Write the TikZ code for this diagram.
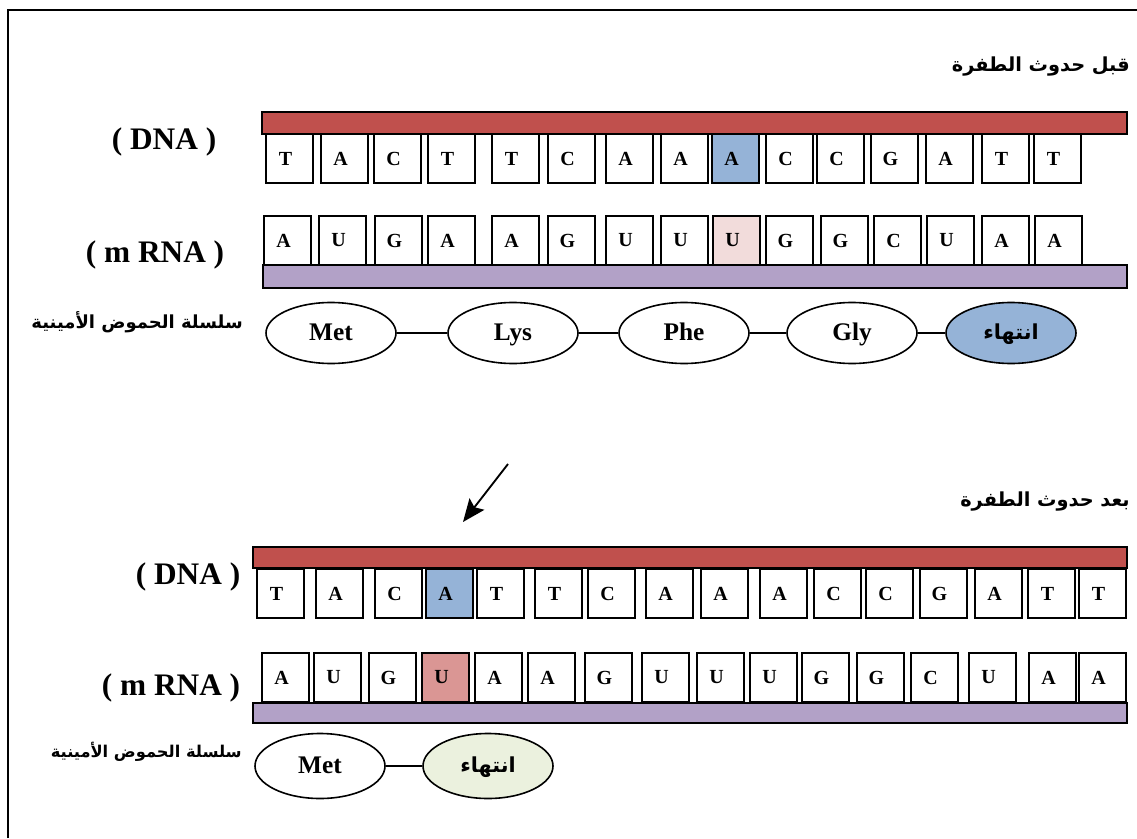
\documentclass[tikz,border=0pt]{standalone}
\usepackage{fontspec}
\setmainfont{Liberation Serif}
\newfontfamily\arabicfont[Script=Arabic]{DejaVu Sans}
\usetikzlibrary{arrows.meta,shapes.geometric}
\TeXXeTstate=1
\definecolor{dnared}{HTML}{C0504D}
\definecolor{rnapurple}{HTML}{B2A1C7}
\definecolor{mutblue}{HTML}{95B3D7}
\definecolor{palepink}{HTML}{F2DCDB}
\definecolor{mutpink}{HTML}{DA9694}
\definecolor{palegreen}{HTML}{EBF1DE}
\tikzset{
  basebox/.style={draw=black, line width=1.3pt, rectangle, anchor=north west,
    minimum width=35.25pt, minimum height=36.75pt, inner sep=0pt, outer sep=0pt,
    font=\fontsize{15}{18}\selectfont\bfseries},
  strandbar/.style={draw=black, line width=1.5pt},
  aminoacid/.style={draw=black, line width=1.2pt, ellipse, fill=white,
    minimum width=97.5pt, minimum height=45.75pt, inner sep=0pt,
    text height=13pt, text depth=2pt,
    font=\fontsize{19}{22}\selectfont\bfseries},
  stopword/.style={font=\arabicfont\bfseries\fontsize{15.5}{18}\selectfont,
    text height=12pt, text depth=3pt},
  strandname/.style={font=\fontsize{23.5}{28}\selectfont\bfseries},
  arlabel/.style={inner sep=0pt},
  link/.style={line width=1.2pt},
}
\newcommand{\ar}[1]{\beginR #1\endR}
\begin{document}
\begin{tikzpicture}[x=0.75pt, y=-0.75pt]
\useasboundingbox (0,0) rectangle (1137,838);
% outer frame
\draw[line width=1.5pt] (8,838) -- (8,10) -- (1137,10);

% ---------- before the mutation ----------
\node[arlabel, anchor=east, font=\arabicfont\bfseries\fontsize{14.5}{17}\selectfont] (titleA) at (1130,67) {\ar{قبل حدوث الطفرة}};
\node[strandname] (dnaA) at (164,142) {( DNA )};
\node[strandname] (rnaA) at (155,255) {( m RNA )};

\draw[strandbar, fill=dnared] (262,112) rectangle (1127,134);
\foreach \x/\l/\f [count=\i] in {266/T/white,321/A/white,374/C/white,428/T/white,492/T/white,548/C/white,606/A/white,661/A/white,712/A/mutblue,766/C/white,817/C/white,871/G/white,926/A/white,982/T/white,1034/T/white}
  \node[basebox, fill=\f] (dA\i) at (\x,134) {\l\kern6pt};

\foreach \x/\l/\f [count=\i] in {264/A/white,319/U/white,375/G/white,428/A/white,492/A/white,548/G/white,606/U/white,661/U/white,713/U/palepink,766/G/white,821/G/white,874/C/white,927/U/white,982/A/white,1035/A/white}
  \node[basebox, fill=\f] (rA\i) at (\x,216) {\l\kern6pt};
\draw[strandbar, fill=rnapurple] (263,265) rectangle (1127,288);

\node[arlabel, anchor=east, font=\arabicfont\bfseries\fontsize{13.5}{16}\selectfont] (chainA) at (243,322) {\ar{سلسلة الحموض الأمينية}};
\node[aminoacid] (metA) at (331,333) {Met};
\node[aminoacid] (lysA) at (513,333) {Lys};
\node[aminoacid] (pheA) at (684,333) {Phe};
\node[aminoacid] (glyA) at (852,333) {Gly};
\node[aminoacid, stopword, fill=mutblue] (stopA) at (1011,333) {\ar{انتهاء}};
\draw[link] (metA) -- (lysA);
\draw[link] (lysA) -- (pheA);
\draw[link] (pheA) -- (glyA);
\draw[link] (glyA) -- (stopA);

% ---------- after the mutation ----------
\coordinate (arrowFrom) at (508,464);
\coordinate (arrowTo) at (463,522);
\draw[line width=1.4pt, -{Stealth[length=17pt, width=14pt, inset=3pt]}] (arrowFrom) -- (arrowTo);

\node[arlabel, anchor=east, font=\arabicfont\bfseries\fontsize{14.5}{17}\selectfont] (titleB) at (1130,502) {\ar{بعد حدوث الطفرة}};
\node[strandname] (dnaB) at (188,577) {( DNA )};
\node[strandname] (rnaB) at (171,688) {( m RNA )};

\draw[strandbar, fill=dnared] (253,547) rectangle (1127,568);
\foreach \x/\l/\f [count=\i] in {257/T/white,316/A/white,375/C/white,426/A/mutblue,477/T/white,535/T/white,588/C/white,646/A/white,701/A/white,760/A/white,814/C/white,866/C/white,920/G/white,975/A/white,1028/T/white,1079/T/white}
  \node[basebox, fill=\f] (dB\i) at (\x,569) {\l\kern6pt};

\foreach \x/\l/\f [count=\i] in {262/A/white,314/U/white,369/G/white,422/U/mutpink,475/A/white,528/A/white,585/G/white,642/U/white,697/U/white,750/U/white,802/G/white,857/G/white,911/C/white,969/U/white,1029/A/white,1079/A/white}
  \node[basebox, fill=\f] (rB\i) at (\x,653) {\l\kern6pt};
\draw[strandbar, fill=rnapurple] (253,703) rectangle (1127,723);

\node[arlabel, anchor=east, font=\arabicfont\bfseries\fontsize{12.2}{14}\selectfont] (chainB) at (242,752) {\ar{سلسلة الحموض الأمينية}};
\node[aminoacid, minimum height=48.75pt] (metB) at (320,766) {Met};
\node[aminoacid, stopword, minimum height=48.75pt, fill=palegreen] (stopB) at (488,766) {\ar{انتهاء}};
\draw[link] (metB) -- (stopB);
\end{tikzpicture}
\end{document}
